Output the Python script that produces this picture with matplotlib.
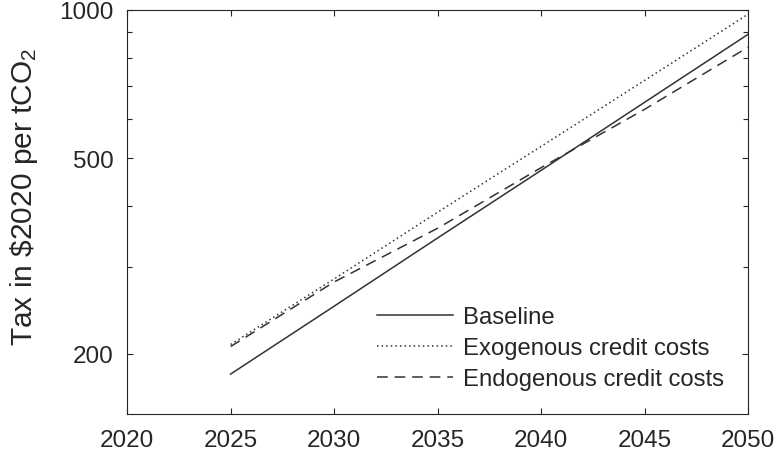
import numpy as np
import matplotlib.pyplot as plt
import matplotlib.ticker as mticker

plt.rcParams.update({"font.size": 17.5})
plt.rcParams["font.family"] = ["Liberation Sans", "DejaVu Sans"]
plt.rcParams["mathtext.fontset"] = "custom"
plt.rcParams["mathtext.rm"] = "Liberation Sans"
plt.rcParams["mathtext.it"] = "Liberation Sans"

# values (US$2020 per tCO2)
years = [2025, 2030, 2035, 2040, 2045, 2050]
baseline = [182, 250, 344, 472, 649, 892]
exogenous = [209, 284, 388, 528, 719, 980]
endogenous = [207, 280, 360, 478, 628, 840]

xticks = [2020, 2025, 2030, 2035, 2040, 2045, 2050]
yticks = [200, 500, 1000]

ink = "#262626"
line_col = "#333333"

fig = plt.figure(figsize=(7.8, 4.56), dpi=100)
ax = fig.add_axes([0.163, 0.090, 0.796, 0.886])

ax.plot(years, baseline, color=line_col, lw=1.1, ls="-", label="Baseline")
ax.plot(years, exogenous, color=line_col, lw=1.1, ls=(0, (1, 2)), label="Exogenous credit costs")
ax.plot(years, endogenous, color=line_col, lw=1.1, ls=(0, (7, 4.5)), label="Endogenous credit costs")

ax.set_yscale("log")
ax.set_xlim(2020, 2050)
ax.set_ylim(151, 1000)
ax.set_xticks(xticks)
ax.set_yticks(yticks)
ax.yaxis.set_major_formatter(mticker.FixedFormatter([str(v) for v in yticks]))
ax.yaxis.set_minor_locator(mticker.FixedLocator([300, 400, 600, 700, 800, 900]))
ax.yaxis.set_minor_formatter(mticker.NullFormatter())

ax.tick_params(which="both", direction="in", top=True, right=True, color=ink,
               labelcolor=ink, width=0.8)
ax.tick_params(which="major", length=4)
ax.tick_params(which="minor", length=3.5)
ax.tick_params(axis="x", pad=10.5)
ax.tick_params(axis="y", pad=10)
for s in ax.spines.values():
    s.set_color(ink)
    s.set_linewidth(0.8)

ax.set_ylabel(r"Tax in \$2020 per tCO$_2$", color=ink, fontsize=21.5)
ax.yaxis.set_label_coords(-0.14, 0.54)

ax.legend(loc="lower right", frameon=False, handlelength=3.2, handletextpad=0.42,
          labelspacing=0.38, borderaxespad=0.6, fontsize=17.2, labelcolor=ink)

plt.savefig("out.png", dpi=100)
